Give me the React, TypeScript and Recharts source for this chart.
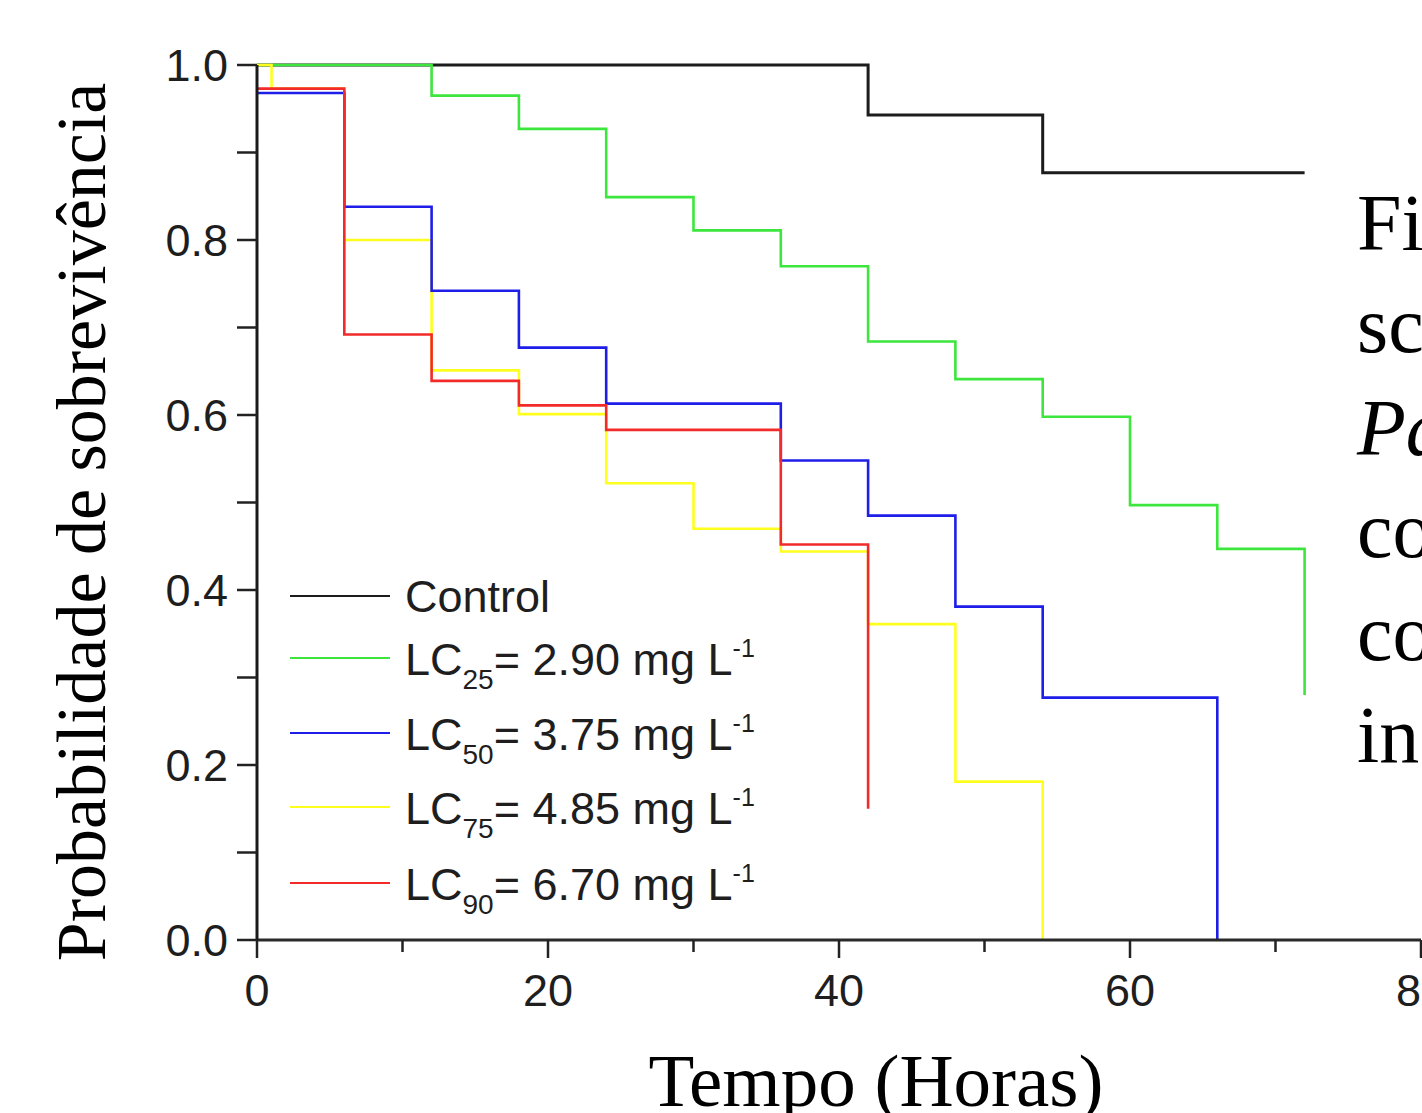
import React from 'react';
import { LineChart, Line, XAxis, YAxis, Label, Customized } from 'recharts';

// ---- Data (hours, survival probability) ----
const controlHours = [0, 42, 54, 72];
const controlSurvival = [1.0, 0.943, 0.877, 0.877];

const lc25Hours = [0, 12, 18, 24, 30, 36, 42, 48, 54, 60, 66, 72];
const lc25Survival = [1.0, 0.965, 0.927, 0.849, 0.811, 0.77, 0.684, 0.641, 0.598, 0.497, 0.447, 0.28];

const lc50Hours = [0, 6, 12, 18, 24, 36, 42, 48, 54, 66];
const lc50Survival = [0.968, 0.838, 0.742, 0.677, 0.613, 0.548, 0.485, 0.381, 0.277, 0];

const lc75Hours = [0, 1, 6, 12, 18, 24, 30, 36, 42, 48, 54];
const lc75Survival = [1.0, 0.973, 0.8, 0.651, 0.601, 0.522, 0.47, 0.444, 0.361, 0.181, 0];

const lc90Hours = [0, 6, 12, 18, 24, 36, 42];
const lc90Survival = [0.973, 0.692, 0.639, 0.611, 0.583, 0.452, 0.15];

const seriesNames = ['Control', 'LC25', 'LC50', 'LC75', 'LC90'];
const legendSub = ['', '25', '50', '75', '90'];
const legendValue = ['', '= 2.90 mg L', '= 3.75 mg L', '= 4.85 mg L', '= 6.70 mg L'];
const seriesColors = ['#1c1c1c', '#3ce63c', '#1e1ee8', '#ffff1e', '#f22a2a'];

const xTicks = [0, 10, 20, 30, 40, 50, 60, 70, 80];
const yTicks = [0, 0.1, 0.2, 0.3, 0.4, 0.5, 0.6, 0.7, 0.8, 0.9, 1.0];

const sideText = ['Fi', 'sc', 'Pa', 'co', 'co', 'in'];

const yTitle = 'Probabilidade de sobrevivência';
const xTitle = 'Tempo (Horas)';

const toRows = (hours: number[], surv: number[]) => hours.map((t, i) => ({ t, s: surv[i] }));

const controlData = toRows(controlHours, controlSurvival);
const lc25Data = toRows(lc25Hours, lc25Survival);
const lc50Data = toRows(lc50Hours, lc50Survival);
const lc75Data = toRows(lc75Hours, lc75Survival);
const lc90Data = toRows(lc90Hours, lc90Survival);

const SANS = '"Liberation Sans", Arial, sans-serif';
const SERIF = '"Liberation Serif", "Times New Roman", serif';

const XTick = (props: any) => {
  const { x, y, payload } = props;
  const v = payload.value;
  const major = v % 20 === 0;
  return (
    <g>
      <line x1={x} x2={x} y1={y} y2={y + (major ? 18 : 12)} stroke="#222" strokeWidth={2.5} />
      {major && (
        <text x={x} y={y + 66} textAnchor="middle" fontFamily={SANS} fontSize={45} fill="#1e1e1e">
          {v}
        </text>
      )}
    </g>
  );
};

const YTick = (props: any) => {
  const { x, y, payload } = props;
  const v = payload.value;
  const major = Math.round(v * 10) % 2 === 0;
  return (
    <g>
      <line x1={x - 20} x2={x} y1={y} y2={y} stroke="#222" strokeWidth={2.5} />
      {major && (
        <text x={x - 29} y={y} dy={16} textAnchor="end" fontFamily={SANS} fontSize={45} fill="#1e1e1e">
          {v.toFixed(1)}
        </text>
      )}
    </g>
  );
};

const legendRowY = [596, 658, 733, 807, 883];

const LegendBox = () => (
  <g>
    {seriesNames.map((name, i) => (
      <g key={name}>
        <line x1={290} x2={390} y1={legendRowY[i]} y2={legendRowY[i]} stroke={seriesColors[i]} strokeWidth={2.2} />
        {i === 0 ? (
          <text x={405} y={legendRowY[i] + 16} fontFamily={SANS} fontSize={45} fill="#1e1e1e">
            {name}
          </text>
        ) : (
          <text x={405} y={legendRowY[i] + 17} fontFamily={SANS} fontSize={45} fill="#1e1e1e">
            <tspan>LC</tspan>
            <tspan fontSize={28} dy={14}>{legendSub[i]}</tspan>
            <tspan dy={-14}>{legendValue[i]}</tspan>
            <tspan fontSize={25} dy={-18}>-1</tspan>
          </text>
        )}
      </g>
    ))}
  </g>
);

const SideText = () => (
  <g>
    {sideText.map((s, i) => (
      <text
        key={i}
        x={1357}
        y={250 + i * 102.4}
        fontFamily={SERIF}
        fontSize={80}
        fontStyle={i === 2 ? 'italic' : 'normal'}
        fill="#000"
      >
        {s}
      </text>
    ))}
  </g>
);

export default function App() {
  return (
    <div style={{ position: 'absolute', left: 0, top: 0, width: 1422, height: 1113, overflow: 'hidden', background: '#fff' }}>
      <LineChart width={1422} height={1113} margin={{ top: 65, right: 1, bottom: 0, left: 0 }}>
        <XAxis
          type="number"
          dataKey="t"
          domain={[0, 80]}
          ticks={xTicks}
          interval={0}
          tickSize={0}
          tickMargin={0}
          tickLine={false}
          tick={<XTick />}
          height={173}
          axisLine={{ stroke: '#2a2a2a', strokeWidth: 3 }}
          allowDataOverflow
        >
          <Label
            content={() => (
              <text x={876} y={1106} textAnchor="middle" fontFamily={SERIF} fontSize={75} fill="#000">
                {xTitle}
              </text>
            )}
          />
        </XAxis>
        <YAxis
          type="number"
          dataKey="s"
          domain={[0, 1]}
          ticks={yTicks}
          interval={0}
          tickSize={0}
          tickMargin={0}
          tickLine={false}
          tick={<YTick />}
          width={257}
          axisLine={{ stroke: '#1a1a1a', strokeWidth: 3 }}
        >
          <Label
            content={() => (
              <text
                x={105}
                y={522}
                transform="rotate(-90 105 522)"
                textAnchor="middle"
                fontFamily={SERIF}
                fontSize={70}
                fill="#000"
              >
                {yTitle}
              </text>
            )}
          />
        </YAxis>
        <Line data={controlData} dataKey="s" name={seriesNames[0]} type="stepAfter" stroke={seriesColors[0]} strokeWidth={3} dot={false} activeDot={false} isAnimationActive={false} />
        <Line data={lc25Data} dataKey="s" name={seriesNames[1]} type="stepAfter" stroke={seriesColors[1]} strokeWidth={2.6} dot={false} activeDot={false} isAnimationActive={false} />
        <Line data={lc75Data} dataKey="s" name={seriesNames[3]} type="stepAfter" stroke={seriesColors[3]} strokeWidth={2.6} dot={false} activeDot={false} isAnimationActive={false} />
        <Line data={lc50Data} dataKey="s" name={seriesNames[2]} type="stepAfter" stroke={seriesColors[2]} strokeWidth={2.6} dot={false} activeDot={false} isAnimationActive={false} />
        <Line data={lc90Data} dataKey="s" name={seriesNames[4]} type="stepAfter" stroke={seriesColors[4]} strokeWidth={2.6} dot={false} activeDot={false} isAnimationActive={false} />
        <Customized component={LegendBox} />
        <Customized component={SideText} />
      </LineChart>
    </div>
  );
}
